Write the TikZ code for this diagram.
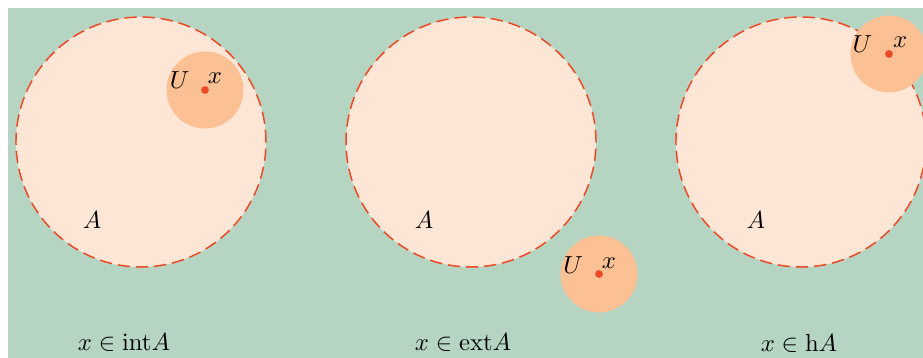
\documentclass[tikz,border=0pt]{standalone}
\usepackage{tikz}
\usetikzlibrary{positioning, calc}
\usepackage{amsmath,amssymb}
\usepackage{xcolor}
\definecolor{cSpace}{RGB}{181, 212, 194}
\definecolor{cSet}{RGB}{254, 230, 214}
\definecolor{cNbhd}{RGB}{251, 192, 148}
\definecolor{bSet}{RGB}{238, 72, 36}

\begin{document}
\begin{tikzpicture}[
    setA/.style={
        circle,
        fill=cSet,
        draw=bSet,
        line width=0.6pt,
        dash pattern=on 5pt off 2.4pt,
        minimum size=3.5625cm,
        inner sep=0pt
    },
    nbhd/.style={
        circle,
        fill=cNbhd,
        minimum size=1.097cm,
        inner sep=0pt
    },
    pt/.style={
        circle,
        fill=bSet,
        minimum size=0.11cm,
        inner sep=0pt
    },
    lbl/.style={inner sep=0pt}
]

\useasboundingbox (0,0) rectangle (13.153,5.1015);
\fill[cSpace] (0.114,0) rectangle (13.153,4.988);

% the set A, three times
\node[setA] (A1) at (2.009, 3.078) {};
\node[setA] (A2) at (6.712, 3.078) {};
\node[setA] (A3) at (11.414, 3.078) {};

% neighbourhoods U of the point x
\node[nbhd] (U1) at (2.921, 3.819) {};
\node[nbhd] (U2) at (8.536, 1.197) {};
\node[nbhd] (U3) at (12.668, 4.332) {};

\node[pt] (x1) at (U1) {};
\node[pt] (x2) at (U2) {};
\node[pt] (x3) at (U3) {};

% labels
\node[lbl] (u1) at ($(x1)+(-0.36,0.14)$) {$U$};
\node[lbl] (xl1) at ($(x1)+(0.14,0.17)$) {$x$};
\node[lbl] (u2) at ($(x2)+(-0.37,0.13)$) {$U$};
\node[lbl] (xl2) at ($(x2)+(0.14,0.16)$) {$x$};
\node[lbl] (u3) at ($(x3)+(-0.38,0.14)$) {$U$};
\node[lbl] (xl3) at ($(x3)+(0.16,0.17)$) {$x$};

\node[lbl] (a1) at (1.311, 1.967) {$A$};
\node[lbl] (a2) at (6.042, 1.967) {$A$};
\node[lbl] (a3) at (10.773, 1.967) {$A$};

\node (cap1) at (1.767, 0.214) {$x \in \mathrm{int} A$};
\node (cap2) at (6.598, 0.214) {$x \in \mathrm{ext} A$};
\node (cap3) at (11.386, 0.214) {$x \in \mathrm{h} A$};

\end{tikzpicture}
\end{document}
